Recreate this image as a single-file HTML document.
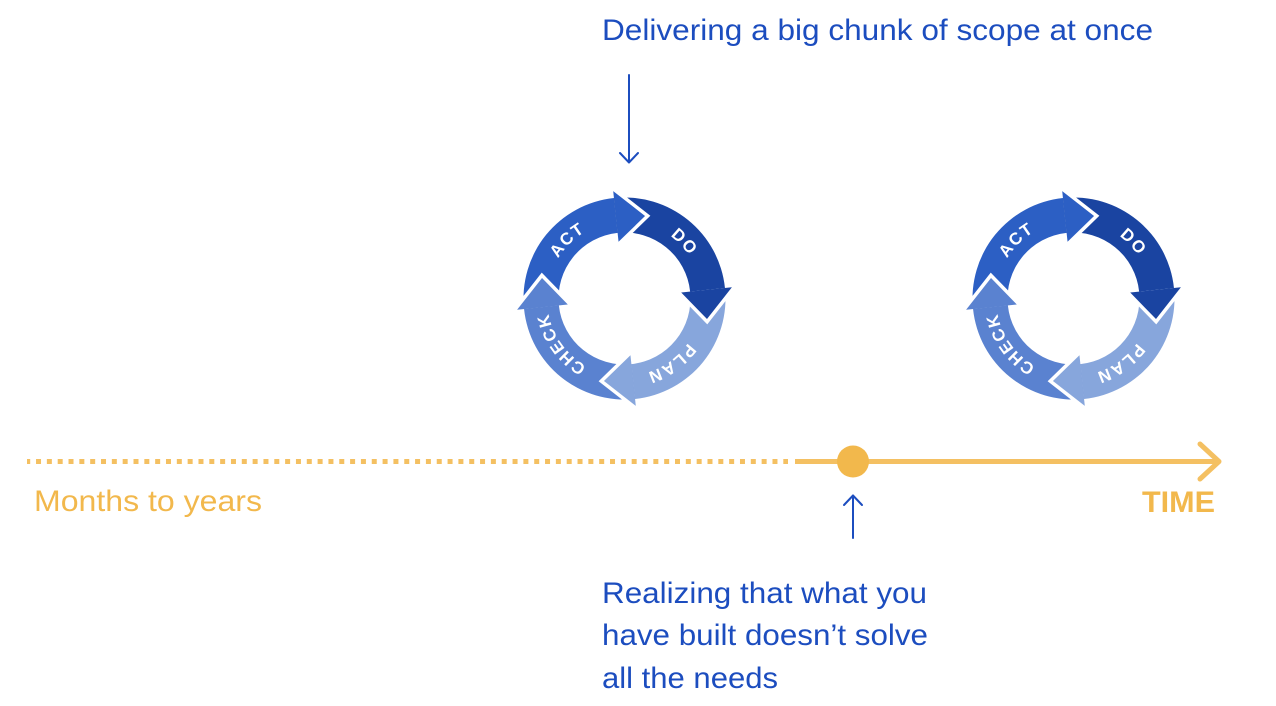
<!DOCTYPE html>
<html>
<head>
<meta charset="utf-8">
<style>
  html, body { margin: 0; padding: 0; background: #ffffff; }
  body { width: 1276px; height: 706px; overflow: hidden; }
  svg { display: block; }
</style>
</head>
<body>
<svg width="1276" height="706" viewBox="0 0 1276 706" xmlns="http://www.w3.org/2000/svg">
  <defs>
    <path id="ring" d="M 0,-77.5 A 77.5 77.5 0 1 1 0,77.5 A 77.5 77.5 0 1 1 0,-77.5 A 77.5 77.5 0 1 1 0,77.5 A 77.5 77.5 0 1 1 0,-77.5" fill="none"/>
    <path id="body" d="M -100.45,10.56 A 101 101 0 0 1 -10.56,-100.45 L -6.90,-65.64 A 66 66 0 0 0 -65.64,6.90 Z"/>
    <polygon id="head" points="-11.29,-107.41 20.56,-82.48 -5.96,-56.69"/>
    <polyline id="headedge" points="-11.29,-107.41 20.56,-82.48 -5.96,-56.69" fill="none" stroke="#ffffff" stroke-width="7" stroke-linejoin="miter" stroke-miterlimit="6"/>
  </defs>

  <!-- Top text -->
  <text x="602" y="40" font-family="Liberation Sans, Arial, sans-serif" font-size="30" fill="#1c4dbf" textLength="551" lengthAdjust="spacingAndGlyphs">Delivering a big chunk of scope at once</text>

  <!-- Down arrow -->
  <g stroke="#1c4dbf" stroke-width="2" fill="none" stroke-linecap="round" stroke-linejoin="round">
    <line x1="629" y1="75" x2="629" y2="162"/>
    <polyline points="620,153 629,162.5 638,153"/>
  </g>

  <!-- Cycle 1 -->
  <g transform="translate(624.5,298.5)">
    <use href="#body" fill="#2c5fc4"/>
    <use href="#body" fill="#1a44a1" transform="rotate(90)"/>
    <use href="#body" fill="#87a6dc" transform="rotate(180)"/>
    <use href="#body" fill="#5a82d0" transform="rotate(270)"/>
    <use href="#headedge"/>
    <use href="#headedge" transform="rotate(90)"/>
    <use href="#headedge" transform="rotate(180)"/>
    <use href="#headedge" transform="rotate(270)"/>
    <use href="#head" fill="#2c5fc4"/>
    <use href="#head" fill="#1a44a1" transform="rotate(90)"/>
    <use href="#head" fill="#87a6dc" transform="rotate(180)"/>
    <use href="#head" fill="#5a82d0" transform="rotate(270)"/>
    <g font-family="Liberation Sans, Arial, sans-serif" font-weight="bold" font-size="17" fill="#ffffff" letter-spacing="1.5">
      <text text-anchor="middle"><textPath href="#ring" startOffset="426.2">ACT</textPath></text>
      <text text-anchor="middle"><textPath href="#ring" startOffset="549.2">DO</textPath></text>
      <text text-anchor="middle"><textPath href="#ring" startOffset="194.8">PLAN</textPath></text>
      <text text-anchor="middle"><textPath href="#ring" startOffset="316.6">CHECK</textPath></text>
    </g>
  </g>

  <!-- Cycle 2 -->
  <g transform="translate(1073.5,298.5)">
    <use href="#body" fill="#2c5fc4"/>
    <use href="#body" fill="#1a44a1" transform="rotate(90)"/>
    <use href="#body" fill="#87a6dc" transform="rotate(180)"/>
    <use href="#body" fill="#5a82d0" transform="rotate(270)"/>
    <use href="#headedge"/>
    <use href="#headedge" transform="rotate(90)"/>
    <use href="#headedge" transform="rotate(180)"/>
    <use href="#headedge" transform="rotate(270)"/>
    <use href="#head" fill="#2c5fc4"/>
    <use href="#head" fill="#1a44a1" transform="rotate(90)"/>
    <use href="#head" fill="#87a6dc" transform="rotate(180)"/>
    <use href="#head" fill="#5a82d0" transform="rotate(270)"/>
    <g font-family="Liberation Sans, Arial, sans-serif" font-weight="bold" font-size="17" fill="#ffffff" letter-spacing="1.5">
      <text text-anchor="middle"><textPath href="#ring" startOffset="426.2">ACT</textPath></text>
      <text text-anchor="middle"><textPath href="#ring" startOffset="549.2">DO</textPath></text>
      <text text-anchor="middle"><textPath href="#ring" startOffset="194.8">PLAN</textPath></text>
      <text text-anchor="middle"><textPath href="#ring" startOffset="316.6">CHECK</textPath></text>
    </g>
  </g>

  <!-- Timeline -->
  <line x1="27" y1="461.5" x2="788" y2="461.5" stroke="#f4c062" stroke-width="5" stroke-dasharray="5 5.83" stroke-dashoffset="1.8"/>
  <line x1="795" y1="461.5" x2="1217" y2="461.5" stroke="#f4c062" stroke-width="5"/>
  <polyline points="1200,444 1219,461.5 1200,479" fill="none" stroke="#f4c062" stroke-width="5" stroke-linecap="round" stroke-linejoin="round"/>
  <circle cx="853" cy="461.5" r="16" fill="#f2b84c"/>

  <!-- Up arrow -->
  <g stroke="#1c4dbf" stroke-width="2" fill="none" stroke-linecap="round" stroke-linejoin="round">
    <line x1="853" y1="538" x2="853" y2="495.5"/>
    <polyline points="844,505 853,495.5 862,505"/>
  </g>

  <!-- Timeline labels -->
  <text x="34" y="511" font-family="Liberation Sans, Arial, sans-serif" font-size="30" fill="#f2b84c" textLength="228" lengthAdjust="spacingAndGlyphs">Months to years</text>
  <text x="1142" y="512" font-family="Liberation Sans, Arial, sans-serif" font-size="30" font-weight="bold" fill="#f2b84c" textLength="73" lengthAdjust="spacingAndGlyphs">TIME</text>

  <!-- Bottom text -->
  <g font-family="Liberation Sans, Arial, sans-serif" font-size="30" fill="#1c4dbf">
    <text x="602" y="603" textLength="325" lengthAdjust="spacingAndGlyphs">Realizing that what you</text>
    <text x="602" y="645" textLength="326" lengthAdjust="spacingAndGlyphs">have built doesn’t solve</text>
    <text x="602" y="688" textLength="176" lengthAdjust="spacingAndGlyphs">all the needs</text>
  </g>
</svg>
</body>
</html>
